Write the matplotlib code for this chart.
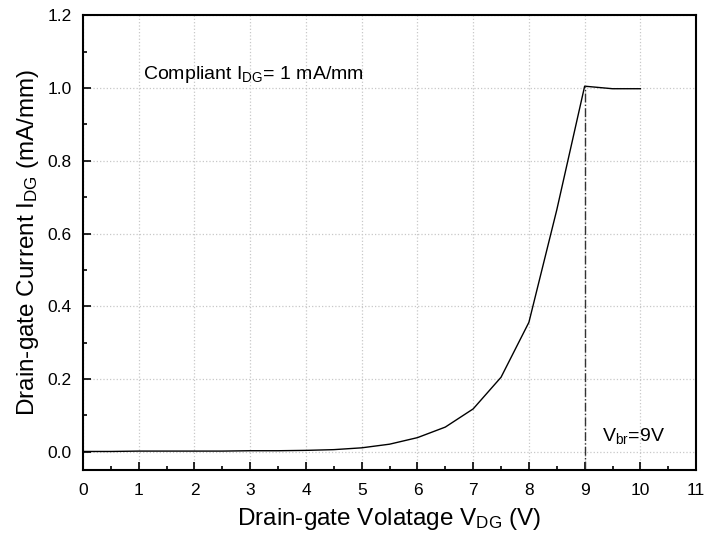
import numpy as np
import matplotlib
matplotlib.use("Agg")
from matplotlib import pyplot as plt
from matplotlib.ticker import MultipleLocator, FormatStrFormatter

plt.rcParams['font.family'] = ['Liberation Sans', 'DejaVu Sans']
plt.rcParams['mathtext.fontset'] = 'custom'
plt.rcParams['mathtext.rm'] = 'Liberation Sans'
plt.rcParams['mathtext.it'] = 'Liberation Sans'

# drain-gate voltage (V) and current (mA/mm)
v_dg = [0, 0.5, 1, 1.5, 2, 2.5, 3, 3.5, 4, 4.5, 5, 5.5, 6, 6.5, 7, 7.5, 8, 8.5, 9, 9.5, 10]
i_dg = [0.001, 0.001, 0.002, 0.002, 0.002, 0.002, 0.003, 0.003, 0.004, 0.006, 0.011, 0.021, 0.039,
        0.068, 0.118, 0.205, 0.356, 0.665, 1.005, 0.998, 0.998]
v_br = 9

fig = plt.figure(figsize=(7.06, 5.44), dpi=100)
ax = fig.add_axes([0.1176, 0.136, 0.8684, 0.836])

ax.plot(v_dg, i_dg, color='black', lw=1.0)
ax.plot([v_br, v_br], [-0.05, i_dg[v_dg.index(v_br)]], color='#333333', lw=1.0, ls='-.')

ax.set_xlim(0, 11)
ax.set_ylim(-0.05, 1.2)
ax.xaxis.set_major_locator(MultipleLocator(1))
ax.xaxis.set_minor_locator(MultipleLocator(0.5))
ax.yaxis.set_major_locator(MultipleLocator(0.2))
ax.yaxis.set_minor_locator(MultipleLocator(0.1))
ax.yaxis.set_major_formatter(FormatStrFormatter('%.1f'))
ax.tick_params(which='major', direction='in', length=6, width=1.2, labelsize=12.5)
ax.tick_params(axis='x', which='major', pad=9)
ax.tick_params(axis='y', which='major', pad=8)
ax.tick_params(which='minor', direction='in', length=3, width=1.2)
ax.tick_params(top=False, right=False, which='both')
for s in ax.spines.values():
    s.set_linewidth(1.5)
ax.grid(True, which='major', ls=':', color='#c8c8c8', lw=0.9)

ax.set_xlabel(r'Drain-gate Volatage V$_{\mathregular{DG}}$ (V)', fontsize=17.5, labelpad=6)
ax.set_ylabel(r'Drain-gate Current I$_{\mathregular{DG}}$ (mA/mm)', fontsize=17.5, labelpad=5)

ax.text(1.07, 1.025, r'Compliant I$_{\mathregular{DG}}$= 1 mA/mm', fontsize=14, va='baseline')
ax.text(9.32, 0.03, r'V$_{\mathregular{br}}$=9V', fontsize=14, va='baseline')

fig.savefig('out.png', dpi=100)
